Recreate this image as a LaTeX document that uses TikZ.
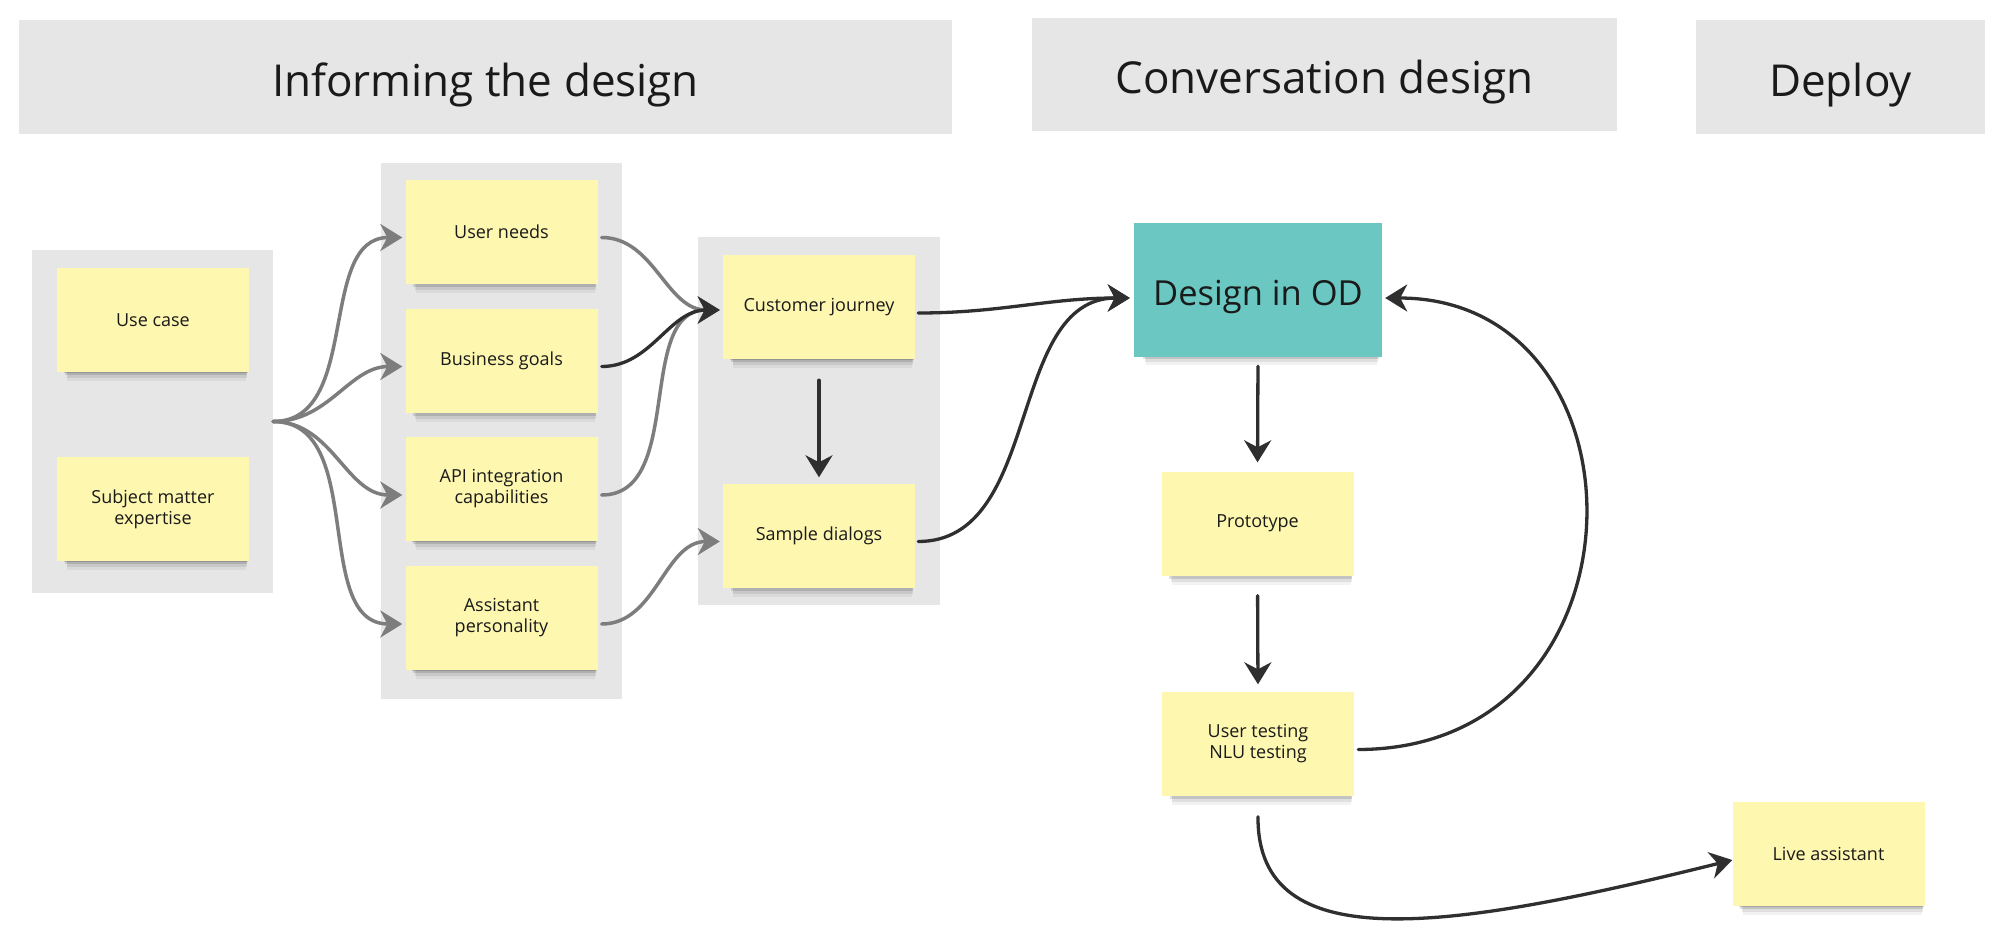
\documentclass[tikz,border=0pt]{standalone}
\usepackage{fontspec}
\setmainfont{Open Sans}
\usetikzlibrary{arrows.meta,shadows}
\definecolor{hdrgray}{HTML}{E6E6E6}
\definecolor{grpgray}{HTML}{E6E6E6}
\definecolor{stickyyel}{HTML}{FDF7B0}
\definecolor{odteal}{HTML}{6AC7C1}
\definecolor{inkc}{HTML}{1A1A1A}
\definecolor{darkln}{HTML}{2F2F2F}
\definecolor{grayln}{HTML}{7D7D7D}
\tikzset{
  header/.style={fill=hdrgray, inner sep=0pt, text=inkc, text height=38pt, text depth=0pt,
    font=\fontsize{44}{52}\selectfont},
  groupbox/.style={fill=grpgray, inner sep=0pt},
  softshadow/.style={
    general shadow={fill=black, opacity=0.05, shadow xshift=4pt, shadow yshift=-14pt, shadow scale=0.93},
    general shadow={fill=black, opacity=0.08, shadow xshift=4pt, shadow yshift=-10pt, shadow scale=0.94},
    general shadow={fill=black, opacity=0.12, shadow xshift=3pt, shadow yshift=-6pt, shadow scale=0.95},
    general shadow={fill=black, opacity=0.15, shadow xshift=3pt, shadow yshift=-3pt, shadow scale=0.96}},
  note/.style={softshadow, fill=stickyyel, minimum width=192pt, minimum height=104pt, inner sep=0pt,
    align=center, text=inkc, font=\fontsize{18}{21}\selectfont},
  odnote/.style={softshadow, fill=odteal, minimum width=248pt, minimum height=134pt, inner sep=0pt,
    text=inkc, text height=30pt, text depth=0pt, font=\fontsize{34.5}{40}\selectfont},
  tipc/.style={-{Stealth[length=22pt,width=27pt,inset=7pt]}},
  grayarrow/.style={tipc, draw=grayln, line width=3.5pt, line cap=round},
  darkarrow/.style={tipc, draw=darkln, line width=3.3pt, line cap=round},
}
\begin{document}
\begin{tikzpicture}[x=1pt,y=-1pt]
\useasboundingbox[fill=white] (0,0) rectangle (2000,937);

% headers
\node[header, minimum width=933pt, minimum height=114pt] (h1) at (485.5,77) {Informing the design};
\node[header, minimum width=585pt, minimum height=113pt] (h2) at (1324.5,74.5) {Conversation design};
\node[header, minimum width=289pt, minimum height=114pt] (h3) at (1840.5,77) {Deploy};

% group boxes
\node[groupbox, minimum width=241pt, minimum height=343pt] (g1) at (152.5,421.5) {};
\node[groupbox, minimum width=241pt, minimum height=536pt] (g2) at (501.5,431) {};
\node[groupbox, minimum width=242pt, minimum height=368pt] (g3) at (819,421) {};

% notes
\node[note] (uc)  at (153,320)    {Use case};
\node[note] (sme) at (153,509)    {Subject matter\\expertise};
\node[note] (un)  at (501.5,231.5) {User needs};
\node[note] (bg)  at (501.5,360.5) {Business goals};
\node[note] (api) at (501.5,489)  {API integration\\capabilities};
\node[note] (ap)  at (501.5,618)  {Assistant\\personality};
\node[note] (cj)  at (819,307)    {Customer journey};
\node[note] (sd)  at (819,535.5)  {Sample dialogs};
\node[odnote] (od) at (1258,290)  {Design in OD};
\node[note] (pr)  at (1257.5,523.5) {Prototype};
\node[note] (ut)  at (1258,743.5) {User testing\\NLU testing};
\node[note] (la)  at (1828.5,854) {Live assistant};

% fan from group 1
\foreach \t in {un,bg,api,ap}{
  \draw[grayarrow, shorten >=3pt] (g1.east) to[out=0,in=180] ([yshift=-6pt]\t.west);
}
% group 2 to group 3
\draw[grayarrow, shorten <=4pt, shorten >=3pt] ([yshift=-6pt]un.east) to[out=0,in=180] ([yshift=-3pt]cj.west);
\draw[grayarrow, shorten <=4pt, shorten >=3pt] ([yshift=-6pt]api.east) to[out=0,in=180] ([yshift=-3pt]cj.west);
\draw[grayarrow, shorten <=4pt, shorten >=3pt] ([yshift=-6pt]ap.east) to[out=0,in=180] ([yshift=-6pt]sd.west);
\draw[darkarrow, shorten <=4pt, shorten >=3pt] ([yshift=-6pt]bg.east) to[out=0,in=180] ([yshift=-3pt]cj.west);

% group 3
\draw[darkarrow, shorten <=21pt, shorten >=6pt] (cj.south) -- (sd.north);
\draw[darkarrow, shorten <=3pt, shorten >=4pt] ([yshift=-6pt]cj.east) to[out=0,in=180] ([yshift=-8pt]od.west);
\draw[darkarrow, shorten <=3pt, shorten >=4pt] ([yshift=-6pt]sd.east) to[out=0,in=180] ([yshift=-8pt]od.west);

% conversation design
\draw[darkarrow, shorten <=9pt, shorten >=9pt] (od.south) -- (pr.north);
\draw[darkarrow, shorten <=20pt, shorten >=7pt] (pr.south) -- (ut.north);
\coordinate (utE) at ([xshift=4pt,yshift=-6pt]ut.east);
\coordinate (odE) at ([xshift=3pt,yshift=-8pt]od.east);
\draw[darkarrow] (utE) .. controls (1656,749) and (1656,298) .. (odE);

% deploy
\coordinate (utS) at ([yshift=-21pt]ut.south);
\coordinate (laW) at ([yshift=-6pt]la.west);
\draw[darkarrow] (utS) .. controls (1257,960) and (1450,930) .. (laW);
\end{tikzpicture}
\end{document}
